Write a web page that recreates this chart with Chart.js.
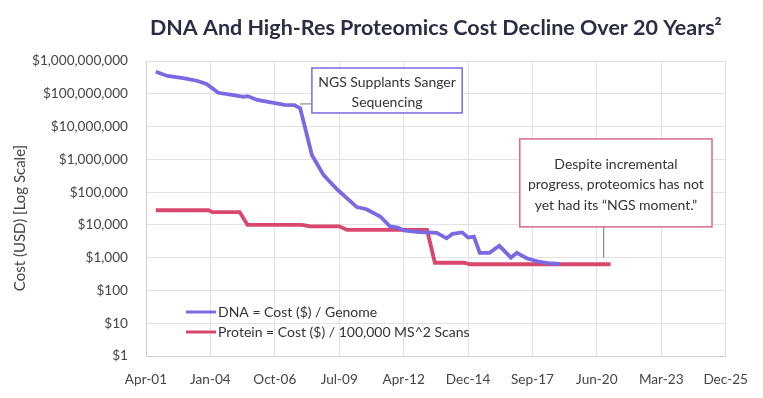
<!DOCTYPE html>
<html>
<head>
<meta charset="utf-8">
<script src="https://cdn.jsdelivr.net/npm/chart.js@4.4.1/dist/chart.umd.min.js"></script>
<style>
  html, body { margin: 0; padding: 0; background: #fff; }
  #wrap { width: 763px; height: 398px; }
</style>
</head>
<body>
<div id="wrap"><canvas id="costChart" width="763" height="398"></canvas></div>
<script>
// x values are months counted from Apr-2001
const xTickMonths = [0, 33, 66, 99, 132, 165, 198, 231, 264, 297];
const xTickLabels = ['Apr-01', 'Jan-04', 'Oct-06', 'Jul-09', 'Apr-12', 'Dec-14', 'Sep-17', 'Jun-20', 'Mar-23', 'Dec-25'];

const yTickValues = [1, 10, 100, 1e3, 1e4, 1e5, 1e6, 1e7, 1e8, 1e9];
const yTickLabels = ['$1', '$10', '$100', '$1,000', '$10,000', '$100,000', '$1,000,000', '$10,000,000', '$100,000,000', '$1,000,000,000'];

const dnaMonths = [5, 11, 19, 26, 31, 37, 44, 50, 52, 57, 64, 71, 76, 79, 85, 91, 98, 108, 113, 120, 125, 129, 132, 140, 149, 154, 157, 162, 165, 168, 171, 176, 181, 187, 190, 195, 201, 206, 212];
const dnaCost = [4.7e8, 3.5e8, 3.0e8, 2.5e8, 2.0e8, 1.07e8, 9.2e7, 8.1e7, 8.5e7, 6.5e7, 5.5e7, 4.6e7, 4.5e7, 3.6e7, 1.35e6, 3.3e5, 1.2e5, 3.5e4, 3.0e4, 1.8e4, 9000, 8300, 6800, 6000, 5700, 3900, 5300, 5900, 4100, 4400, 1400, 1400, 2300, 1000, 1400, 960, 760, 680, 640];

const proteinMonths = [5, 32, 34, 48, 52, 80, 84, 99, 103, 144, 148, 163, 166, 238];
const proteinCost = [28000, 28000, 24500, 24500, 10000, 10000, 9000, 9000, 7000, 7000, 700, 700, 630, 630];

const titleText = 'DNA And High-Res Proteomics Cost Decline Over 20 Years\u00B2';
const yTitleText = 'Cost (USD) [Log Scale]';
const dnaLabel = 'DNA = Cost ($) / Genome';
const proteinLabel = 'Protein = Cost ($) / 100,000 MS^2 Scans';

const PURPLE = '#7b69e3';
const PINK = '#d9476e';
const FONT = 'Lato, "Open Sans", sans-serif';

// callout boxes, corners given in data units (month, cost)
const notes = [
  {
    lines: ['NGS Supplants Sanger', 'Sequencing'],
    box: [85, 6.1e8, 162, 2.6e7],
    border: PURPLE,
    leader: [[79, 4.9e7], [85, 4.9e7]]
  },
  {
    lines: ['Despite incremental', 'progress, proteomics has not', 'yet had its \u201CNGS moment.\u201D'],
    box: [191.5, 4.2e6, 290, 8.7e3],
    border: '#d86a88',
    leader: [[234.5, 8.7e3], [234.5, 1000]]
  }
];

const overlay = {
  id: 'overlay',
  afterDatasetsDraw(chart) {
    const { ctx, chartArea, scales } = chart;
    const sx = scales.x, sy = scales.y;
    ctx.save();

    // title
    ctx.font = 'bold 21.5px ' + FONT;
    ctx.fillStyle = '#2b2d45';
    ctx.textAlign = 'center';
    ctx.textBaseline = 'middle';
    ctx.fillText(titleText, (chartArea.left + chartArea.right) / 2, 28);

    // y axis title
    ctx.save();
    ctx.translate(20, 218);
    ctx.rotate(-Math.PI / 2);
    ctx.font = '15px ' + FONT;
    ctx.fillStyle = '#444';
    ctx.fillText(yTitleText, 0, 0);
    ctx.restore();

    // callouts
    notes.forEach(n => {
      ctx.strokeStyle = '#777';
      ctx.lineWidth = 1;
      ctx.beginPath();
      ctx.moveTo(sx.getPixelForValue(n.leader[0][0]), sy.getPixelForValue(n.leader[0][1]));
      ctx.lineTo(sx.getPixelForValue(n.leader[1][0]), sy.getPixelForValue(n.leader[1][1]));
      ctx.stroke();

      const x1 = sx.getPixelForValue(n.box[0]), y1 = sy.getPixelForValue(n.box[1]);
      const x2 = sx.getPixelForValue(n.box[2]), y2 = sy.getPixelForValue(n.box[3]);
      ctx.fillStyle = '#fff';
      ctx.fillRect(x1, y1, x2 - x1, y2 - y1);
      ctx.strokeStyle = n.border;
      ctx.lineWidth = 1.5;
      ctx.strokeRect(x1, y1, x2 - x1, y2 - y1);

      ctx.font = '14px ' + FONT;
      ctx.fillStyle = '#333';
      ctx.textAlign = 'center';
      ctx.textBaseline = 'middle';
      const lh = 20.5;
      const cy = (y1 + y2) / 2 + 2 - (n.lines.length - 1) * lh / 2;
      n.lines.forEach((t, i) => ctx.fillText(t, (x1 + x2) / 2, cy + i * lh));
    });

    // legend inside the plot
    const items = [[dnaLabel, PURPLE], [proteinLabel, PINK]];
    items.forEach((it, i) => {
      const ly = chartArea.bottom - 44 + i * 20;
      ctx.strokeStyle = it[1];
      ctx.lineWidth = 3;
      ctx.beginPath();
      ctx.moveTo(chartArea.left + 40, ly);
      ctx.lineTo(chartArea.left + 70, ly);
      ctx.stroke();
      ctx.font = '14px ' + FONT;
      ctx.fillStyle = '#333';
      ctx.textAlign = 'left';
      ctx.textBaseline = 'middle';
      ctx.fillText(it[0], chartArea.left + 72, ly);
    });

    ctx.restore();
  }
};

new Chart(document.getElementById('costChart'), {
  type: 'line',
  data: {
    datasets: [
      {
        label: dnaLabel,
        data: dnaMonths.map((m, i) => ({ x: m, y: dnaCost[i] })),
        borderColor: PURPLE,
        borderWidth: 3.8,
        pointRadius: 0,
        tension: 0
      },
      {
        label: proteinLabel,
        data: proteinMonths.map((m, i) => ({ x: m, y: proteinCost[i] })),
        borderColor: PINK,
        borderWidth: 3.8,
        pointRadius: 0,
        tension: 0
      }
    ]
  },
  options: {
    responsive: false,
    animation: false,
    devicePixelRatio: 1,
    layout: { padding: { top: 61, right: 30, left: 0, bottom: 0 } },
    plugins: {
      legend: { display: false },
      title: { display: false },
      tooltip: { enabled: false }
    },
    scales: {
      x: {
        type: 'linear',
        min: 0,
        max: 297,
        afterBuildTicks: s => { s.ticks = xTickMonths.map(v => ({ value: v })); },
        afterFit: s => { s.height = 42; },
        grid: { color: '#e2e2e2', drawTicks: false },
        border: { color: '#cfcfcf' },
        ticks: {
          padding: 15,
          color: '#444',
          font: { family: FONT, size: 13.6 },
          maxRotation: 0,
          callback: v => xTickLabels[xTickMonths.indexOf(v)]
        }
      },
      y: {
        type: 'logarithmic',
        min: 1,
        max: 1e9,
        afterBuildTicks: s => { s.ticks = yTickValues.map(v => ({ value: v })); },
        afterFit: s => { s.width = 146; },
        grid: { color: '#e2e2e2', drawTicks: false },
        border: { color: '#cfcfcf' },
        ticks: {
          padding: 18,
          color: '#444',
          font: { family: FONT, size: 13.6 },
          callback: v => yTickLabels[yTickValues.indexOf(v)]
        }
      }
    }
  },
  plugins: [overlay]
});
</script>
</body>
</html>
